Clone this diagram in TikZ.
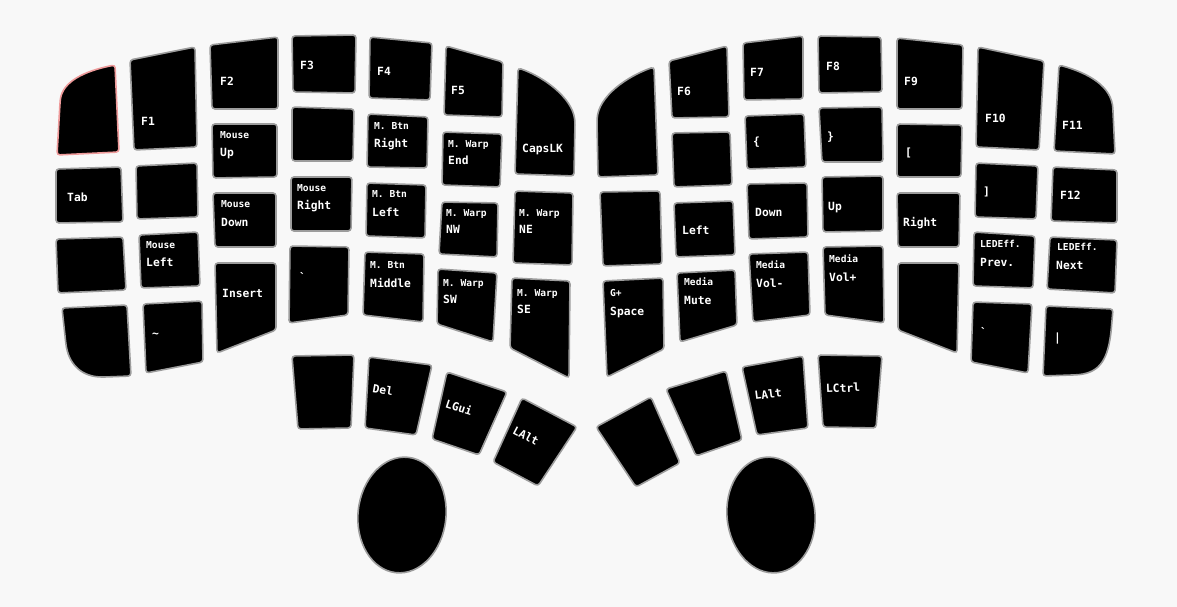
\documentclass[tikz,border=0pt]{standalone}
\usepackage{fontspec}
\newfontfamily\monof{DejaVu Sans Mono}
\definecolor{bgc}{HTML}{F8F8F8}
\definecolor{kborder}{HTML}{9C9C9C}
\definecolor{pinkb}{HTML}{EE9A9A}
\tikzset{
  keyshape/.style={fill=black, draw=kborder, line width=1.6pt, rounded corners=3pt},
  sm/.style={text=white, inner sep=0pt, anchor=base west, font=\monof\bfseries\fontsize{9.6}{10}\selectfont},
  mn/.style={text=white, inner sep=0pt, anchor=base west, font=\monof\bfseries\fontsize{11.3}{12}\selectfont},
  rotl/.style={mn, anchor=center}
}
\newcommand{\kq}[4]{\draw[keyshape] #1 -- #2 -- #3 -- #4 -- cycle;}
\begin{document}
\begin{tikzpicture}[x=1pt,y=-1pt]
\fill[bgc] (0,0) rectangle (1177,607);
\useasboundingbox (0,0) rectangle (1177,607);

% ---------------- left half ----------------
\draw[keyshape, draw=pinkb] (60,103) .. controls (62,82) and (84,71) .. (115,65) -- (119,152) -- (57,155) -- cycle;
\kq{(130,60)}{(195,47)}{(197,147)}{(134,150)}
\kq{(210,45)}{(278,37)}{(278,109)}{(212,109)}
\kq{(292,36)}{(356,35)}{(355,93)}{(293,92)}
\kq{(370,37)}{(432,43)}{(430,100)}{(369,98)}
\kq{(446,46)}{(503,62)}{(502,117)}{(444,115)}
\draw[keyshape] (515,174) -- (518,68) .. controls (542,76) and (572,97) .. (575,122) -- (574,176) -- cycle;

\kq{(56,169)}{(121,167)}{(123,222)}{(56,223)}
\kq{(136,166)}{(197,163)}{(198,217)}{(137,219)}
\kq{(212,124)}{(277,124)}{(277,177)}{(213,178)}
\kq{(292,107)}{(354,109)}{(353,161)}{(292,161)}
\kq{(368,114)}{(428,117)}{(427,168)}{(367,167)}
\kq{(443,132)}{(502,134)}{(500,187)}{(442,185)}

\kq{(56,239)}{(123,237)}{(126,290)}{(58,293)}
\kq{(139,235)}{(198,232)}{(200,286)}{(141,288)}
\kq{(213,193)}{(276,193)}{(276,247)}{(215,247)}
\kq{(291,177)}{(352,177)}{(351,231)}{(291,231)}
\kq{(367,183)}{(426,185)}{(425,238)}{(366,236)}
\kq{(442,202)}{(498,203)}{(497,257)}{(439,254)}
\kq{(515,191)}{(573,193)}{(572,265)}{(513,263)}

\draw[keyshape] (62,308) -- (127,305) -- (131,376) -- (105,377) .. controls (82,377) and (70,365) .. (66,345) -- cycle;
\kq{(143,304)}{(202,301)}{(203,362)}{(146,373)}
\kq{(215,263)}{(276,263)}{(276,330)}{(217,353)}
\kq{(290,246)}{(349,247)}{(348,315)}{(289,323)}
\kq{(365,252)}{(424,254)}{(423,322)}{(363,315)}
\kq{(438,269)}{(497,273)}{(493,342)}{(437,324)}
\kq{(512,278)}{(570,281)}{(569,378)}{(510,348)}

\kq{(292,356)}{(354,355)}{(351,428)}{(298,429)}
\kq{(369,357)}{(432,365)}{(416,435)}{(365,428)}
\kq{(447,372)}{(507,392)}{(479,455)}{(432,439)}
\kq{(522,398)}{(577,427)}{(538,486)}{(493,462)}

\draw[keyshape, rotate around={-6:(402,515)}] (402,515) ellipse [x radius=44, y radius=58];

% ---------------- right half ----------------
\draw[keyshape] (597,122) .. controls (598,96) and (628,76) .. (654,67) -- (658,175) -- (598,177) -- cycle;
\kq{(669,61)}{(727,46)}{(729,117)}{(672,118)}
\kq{(743,43)}{(803,36)}{(803,99)}{(744,100)}
\kq{(818,36)}{(881,37)}{(882,92)}{(819,93)}
\kq{(897,38)}{(963,45)}{(962,109)}{(897,109)}
\kq{(978,47)}{(1044,61)}{(1039,150)}{(976,147)}
\draw[keyshape] (1054,151) -- (1059,65) .. controls (1088,73) and (1112,86) .. (1113,112) -- (1115,154) -- cycle;

\kq{(672,133)}{(730,132)}{(732,185)}{(674,187)}
\kq{(745,116)}{(804,114)}{(806,167)}{(747,169)}
\kq{(819,108)}{(882,107)}{(883,162)}{(822,162)}
\kq{(897,124)}{(962,125)}{(961,177)}{(897,177)}
\kq{(976,163)}{(1038,166)}{(1036,219)}{(975,217)}
\kq{(1053,167)}{(1117,170)}{(1117,223)}{(1051,221)}

\kq{(600,192)}{(660,191)}{(662,264)}{(603,266)}
\kq{(674,203)}{(733,201)}{(735,255)}{(676,257)}
\kq{(747,184)}{(807,183)}{(808,237)}{(749,239)}
\kq{(822,177)}{(883,176)}{(883,231)}{(823,232)}
\kq{(897,193)}{(960,193)}{(959,247)}{(898,247)}
\kq{(974,232)}{(1035,236)}{(1033,288)}{(973,286)}
\kq{(1050,237)}{(1117,240)}{(1115,293)}{(1047,289)}

\kq{(603,281)}{(663,278)}{(664,349)}{(607,377)}
\kq{(677,273)}{(735,270)}{(737,325)}{(680,342)}
\kq{(749,254)}{(808,252)}{(810,315)}{(753,322)}
\kq{(823,247)}{(883,246)}{(884,323)}{(825,315)}
\kq{(898,263)}{(959,263)}{(957,353)}{(898,330)}
\kq{(973,302)}{(1032,304)}{(1028,373)}{(971,362)}
\draw[keyshape] (1043,376) -- (1046,306) -- (1113,309) -- (1111,332) .. controls (1107,362) and (1098,374) .. (1072,375) -- cycle;

\kq{(596,427)}{(651,397)}{(680,463)}{(636,487)}
\kq{(666,389)}{(726,371)}{(742,440)}{(696,456)}
\kq{(742,367)}{(803,356)}{(808,428)}{(757,435)}
\kq{(818,355)}{(882,356)}{(876,428)}{(823,427)}

\draw[keyshape, rotate around={6:(771,515)}] (771,515) ellipse [x radius=44, y radius=58];

% ---------------- labels left ----------------
\node[mn] (lF1) at (141,125) {F1};
\node[mn] (lF2) at (220,86) {F2};
\node[mn] (lF3) at (300,70) {F3};
\node[mn] (lF4) at (377,76) {F4};
\node[mn] (lF5) at (451,95) {F5};
\node[mn] (lCaps) at (522,153) {CapsLK};
\node[sm] (sMU) at (220,138.5) {Mouse};
\node[mn] (lMU) at (220,157) {Up};
\node[sm] (sBR) at (374,129.5) {M. Btn};
\node[mn] (lBR) at (374,147) {Right};
\node[sm] (sWE) at (448,147.5) {M. Warp};
\node[mn] (lWE) at (448,164) {End};
\node[mn] (lTab) at (67,201) {Tab};
\node[sm] (sMD) at (221,207.5) {Mouse};
\node[mn] (lMD) at (221,226) {Down};
\node[sm] (sMR) at (297,191.5) {Mouse};
\node[mn] (lMR) at (297,209) {Right};
\node[sm] (sBL) at (372,197.5) {M. Btn};
\node[mn] (lBL) at (372,216) {Left};
\node[sm] (sNW) at (446,216.5) {M. Warp};
\node[mn] (lNW) at (446,233) {NW};
\node[sm] (sNE) at (519,216.5) {M. Warp};
\node[mn] (lNE) at (519,233) {NE};
\node[sm] (sML) at (146,248.5) {Mouse};
\node[mn] (lML) at (146,266) {Left};
\node[mn] (lIns) at (222,297) {Insert};
\node[mn] (lGrL) at (299,281) {\char96};
\node[sm] (sBM) at (370,268.5) {M. Btn};
\node[mn] (lBM) at (370,287) {Middle};
\node[sm] (sSW) at (443,286.5) {M. Warp};
\node[mn] (lSW) at (443,303) {SW};
\node[sm] (sSE) at (517,296.5) {M. Warp};
\node[mn] (lSE) at (517,313) {SE};
\node[mn] (lTil) at (152,337) {\char126};
\node[rotl, rotate=-10] (lDel) at (383,390) {Del};
\node[rotl, rotate=-18] (lGui) at (459,407) {LGui};
\node[rotl, rotate=-28] (lAltL) at (526,436) {LAlt};

% ---------------- labels right ----------------
\node[mn] (lF6) at (677,96) {F6};
\node[mn] (lF7) at (750,77) {F7};
\node[mn] (lF8) at (826,71) {F8};
\node[mn] (lLb) at (753,146) {\{};
\node[mn] (lRb) at (827,140) {\}};
\node[mn] (lF9) at (904,86) {F9};
\node[mn] (lF10) at (985,123) {F10};
\node[mn] (lF11) at (1062,130) {F11};
\node[mn] (lLs) at (905,156) {[};
\node[mn] (lRs) at (983,195) {]};
\node[mn] (lF12) at (1060,199) {F12};
\node[mn] (lLeft) at (682,234) {Left};
\node[mn] (lDown) at (755,216) {Down};
\node[mn] (lUp) at (828,210) {Up};
\node[mn] (lRight) at (903,226) {Right};
\node[sm] (sPrev) at (980,247.5) {LEDEff.};
\node[mn] (lPrev) at (980,266) {Prev.};
\node[sm] (sNext) at (1057,250.5) {LEDEff.};
\node[mn] (lNext) at (1056,269) {Next};
\node[mn] (lGrR) at (980,336) {\char96};
\node[mn] (lBar) at (1054,341) {|};
\node[sm] (sSp) at (610,296.5) {G+};
\node[mn] (lSp) at (610,315) {Space};
\node[sm] (sMute) at (684,285.5) {Media};
\node[mn] (lMute) at (684,304) {Mute};
\node[sm] (sVd) at (756,268.5) {Media};
\node[mn] (lVd) at (756,287) {Vol-};
\node[sm] (sVu) at (829,262.5) {Media};
\node[mn] (lVu) at (829,281) {Vol+};
\node[rotl, rotate=7] (lAltR) at (768,394) {LAlt};
\node[rotl, rotate=2] (lCtrl) at (843,388) {LCtrl};
\end{tikzpicture}
\end{document}
